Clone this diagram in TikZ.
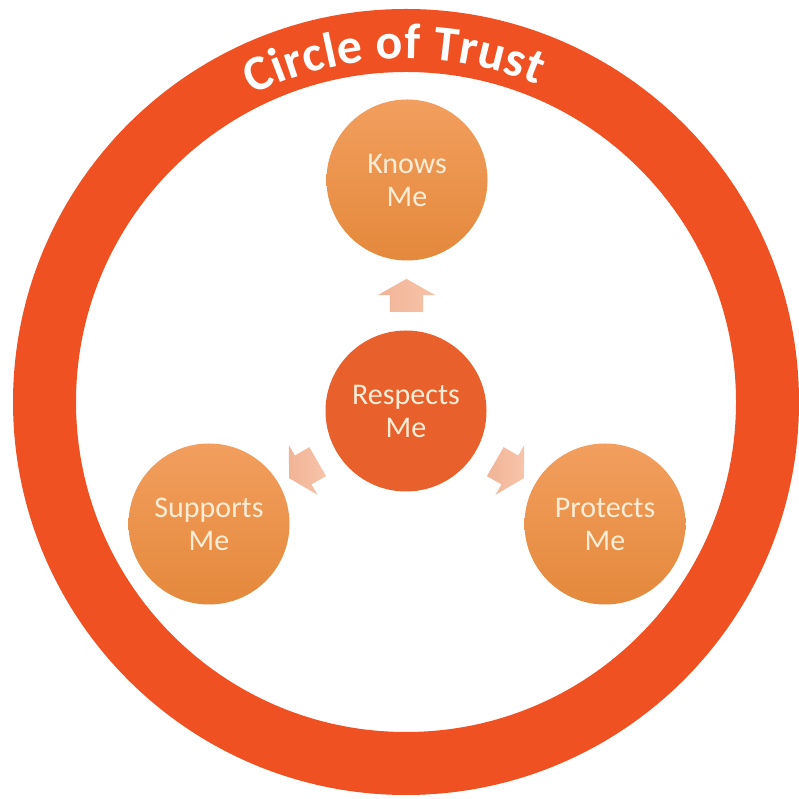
\documentclass[tikz,border=0pt]{standalone}
\usepackage{fontspec}
\setmainfont{Carlito}
\usetikzlibrary{decorations.text,shapes.arrows,calc}
\definecolor{ringc}{RGB}{239,81,34}
\definecolor{respc}{RGB}{232,97,45}
\definecolor{outtop}{RGB}{242,158,94}
\definecolor{outbot}{RGB}{228,137,60}
\definecolor{txtc}{RGB}{253,236,214}
\definecolor{arrlight}{RGB}{247,196,170}
\definecolor{arrdark}{RGB}{241,180,150}
\newcommand\titlefont{\bfseries\fontsize{50}{50}\selectfont}
\begin{document}
\begin{tikzpicture}[x=1pt,y=1pt,
  bubble/.style={circle, minimum size=161pt, inner sep=0pt, align=center, text=txtc, font=\fontsize{30}{33}\selectfont},
  outerbubble/.style={bubble, top color=outtop, bottom color=outbot, draw=none},
  blockarrow/.style={single arrow, draw=none, minimum height=33pt, inner xsep=0pt, inner ysep=16.5pt,
    single arrow head extend=12pt, single arrow tip angle=121, left color=arrdark, right color=arrlight}
]
\useasboundingbox (0,0) rectangle (798,799);
\fill[white] (0,0) rectangle (798,799);
\coordinate (c0) at (406,397);
\draw[ringc, line width=63pt] (c0) circle[radius=361.5];
\path[decorate, decoration={text effects along path, text={Circle of Trust},
   text effects/.cd, text along path, fit text to path, characters={text=white, font=\titlefont}}]
   ($(c0)+(116.5:343)$) arc[start angle=116.5, end angle=67.5, radius=343];
\node[bubble, fill=respc] (resp) at (406,388) {Respects\\Me};
\node[outerbubble] (knows) at (407,619) {Knows\\Me};
\node[outerbubble] (supp) at (209,275) {Supports\\Me};
\node[outerbubble] (prot) at (605,275) {Protects\\Me};
\node[blockarrow, rotate=90] (a1) at ($(resp)!0.48!(knows)$) {};
\node[blockarrow, rotate=210] (a2) at ($(resp)!0.5!(supp)$) {};
\node[blockarrow, rotate=330] (a3) at ($(resp)!0.5!(prot)$) {};
\end{tikzpicture}
\end{document}
